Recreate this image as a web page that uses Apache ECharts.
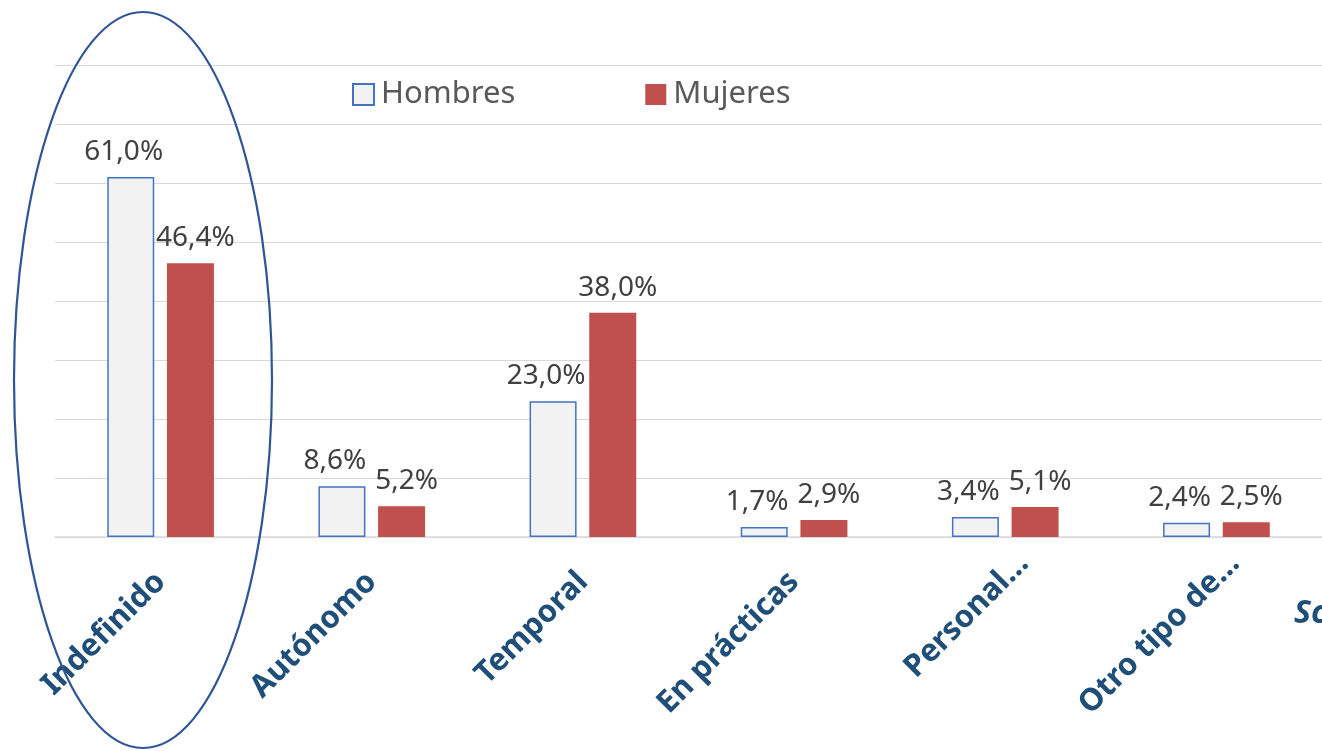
<!DOCTYPE html>
<html>
<head>
<meta charset="utf-8">
<script src="https://cdn.jsdelivr.net/npm/echarts@6/dist/echarts.min.js"></script>
<style>
html,body{margin:0;padding:0;background:#fff;}
#chart{width:1322px;height:751px;}
</style>
</head>
<body>
<div id="chart"></div>
<script>
const categories = ['Indefinido', 'Autónomo', 'Temporal', 'En prácticas', 'Personal…', 'Otro tipo de…'];
const hombres = [61.0, 8.6, 23.0, 1.7, 3.4, 2.4];
const mujeres = [46.4, 5.2, 38.0, 2.9, 5.1, 2.5];
const seriesNames = ['Hombres', 'Mujeres'];

// styling: truncated labels sit a bit further along their diagonal in the original
const truncatedLabelPadding = [0, -26, 0, 0];

const fmt = p => p.value.toFixed(1).replace('.', ',') + '%';
const labelStyle = (dx) => ({
  show: true, position: 'top', distance: 11, offset: [dx, 0],
  fontFamily: 'Noto Sans', fontSize: 28, color: '#404040', formatter: fmt
});

const chart = echarts.init(document.getElementById('chart'));
chart.setOption({
  animation: false,
  backgroundColor: '#ffffff',
  legend: {
    left: 347, top: 74, icon: 'rect',
    itemWidth: 21, itemHeight: 21, itemGap: 130,
    textStyle: { fontFamily: 'Noto Sans', fontSize: 31, color: '#595959', padding: [0, 0, 0, 2] },
    data: seriesNames
  },
  grid: { left: 55, right: -5, top: 65, bottom: 214, containLabel: false },
  xAxis: {
    type: 'category',
    data: categories.map(c => c.endsWith('…') ? { value: c, textStyle: { padding: truncatedLabelPadding } } : c),
    axisLine: { show: true, lineStyle: { color: '#d9d9d9', width: 1.5 } },
    axisTick: { show: false },
    axisLabel: {
      rotate: 45, interval: 0, margin: 40,
      fontFamily: 'Noto Sans', fontWeight: 'bold', fontSize: 31, color: '#1F4E79'
    }
  },
  yAxis: {
    type: 'value', min: 0, max: 80, interval: 10,
    axisLabel: { show: false },
    axisLine: { show: false }, axisTick: { show: false },
    splitLine: { lineStyle: { color: '#d9d9d9', width: 1.2 } }
  },
  series: [
    {
      name: seriesNames[0], type: 'bar', data: hombres, barWidth: 47, barGap: '27%',
      itemStyle: { color: '#F2F2F2', borderColor: '#4472C4', borderWidth: 1.5 },
      label: labelStyle(-7)
    },
    {
      name: seriesNames[1], type: 'bar', data: mujeres, barWidth: 47,
      itemStyle: { color: '#C0504D' },
      label: labelStyle(5)
    }
  ],
  graphic: [
    {
      type: 'ellipse', z: 100, silent: true,
      shape: { cx: 143, cy: 380, rx: 129, ry: 368 },
      style: { fill: 'none', stroke: '#2F5597', lineWidth: 2.2 }
    },
    {
      type: 'text', left: 1294, top: 598, z: 100, silent: true,
      style: { text: 'Sc', font: 'italic bold 32px "Noto Sans"', fill: '#1F4E79' }
    }
  ]
});
</script>
</body>
</html>
